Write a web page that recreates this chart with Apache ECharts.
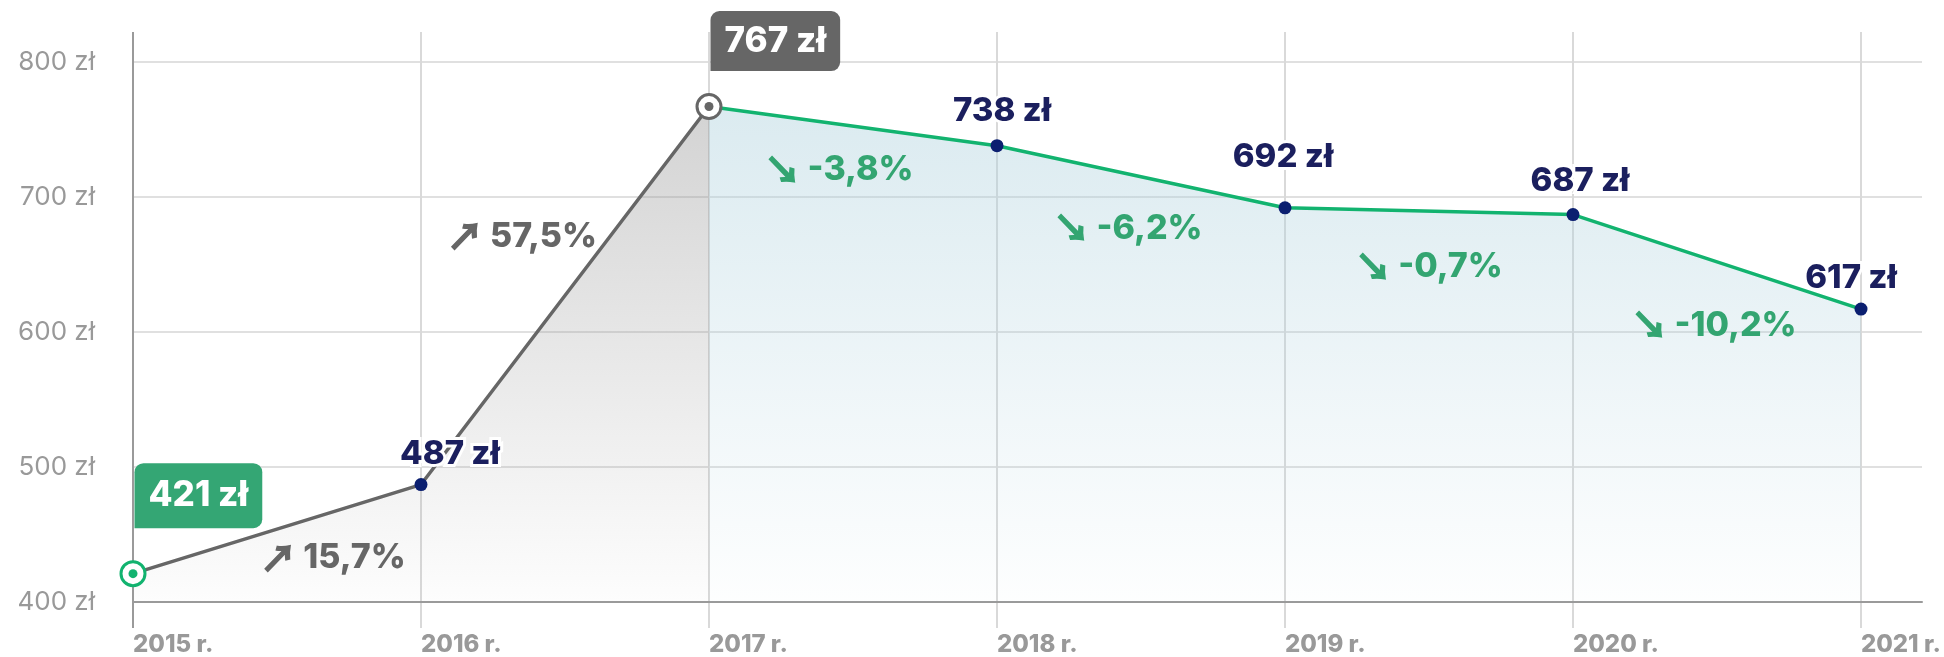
<!DOCTYPE html>
<html><head><meta charset="utf-8">
<script src="https://cdn.jsdelivr.net/npm/echarts@6/dist/echarts.min.js"></script>
<style>html,body{margin:0;padding:0;background:#fff}#c{width:1944px;height:657px}</style>
</head><body><div id="c"></div>
<script>
// ---- data ----
const categories = ['2015 r.', '2016 r.', '2017 r.', '2018 r.', '2019 r.', '2020 r.', '2021 r.'];
const prices = [421, 487, 767, 738, 692, 687, 617];
const changeLabels = ['15,7%', '57,5%', '-3,8%', '-6,2%', '-0,7%', '-10,2%'];
const yTicks = [400, 500, 600, 700, 800];
const unit = ' zł';
const firstIndex = 0;
const peakIndex = 2;

// ---- layout / style (not data) ----
const valueLabelDx = [0, 29, 0, 5, -2, 7, -10];
const valueLabelDist = [0, 7, 0, 12, 28, 10, 8];
const changeLabelOffset = [[56, 29], [-43, -59], [-14, 44], [-13, 52], [0, 56], [-3, 64]];
const FONT = 'Inter';
const GREEN = '#12b36f', GREEN_TXT = '#33a571', GREEN_BOX = '#34a674';
const GRAY = '#666666', NAVY_TXT = '#1b1f5e', NAVY_DOT = '#0b1f70';

const xMax = (1922 - 133) / 288;

const grayLine = prices.slice(0, peakIndex + 1).map((v, i) => [i, v]);
const greenLine = prices.slice(peakIndex).map((v, k) => [k + peakIndex, v]);

const dots = prices.map((v, i) => ({ i, v })).filter(d => d.i !== firstIndex && d.i !== peakIndex)
  .map(d => ({
    value: [d.i, d.v],
    label: { offset: [valueLabelDx[d.i], 0], distance: valueLabelDist[d.i] }
  }));

const rings = [
  { value: [firstIndex, prices[firstIndex]], color: GREEN, box: GREEN_BOX, gap: 44, lh: 47 },
  { value: [peakIndex, prices[peakIndex]], color: GRAY, box: GRAY, gap: 34, lh: 42 }
];

const changes = changeLabels.map((t, i) => {
  const up = prices[i + 1] > prices[i];
  const c = up ? GRAY : GREEN_TXT;
  return {
    value: [i + 0.5, (prices[i] + prices[i + 1]) / 2],
    label: {
      offset: changeLabelOffset[i],
      formatter: (up ? '{a|↗}' : '{a|↘}') + '{t|' + t + '}',
      rich: {
        a: { fontSize: 36, fontWeight: 'bold', color: c, fontFamily: 'Noto Sans CJK SC', padding: [0, 7, 0, 0],
             textBorderColor: c, textBorderWidth: 1.5 },
        t: { fontSize: 34, fontWeight: 800, color: c, fontFamily: FONT }
      }
    }
  };
});

const chart = echarts.init(document.getElementById('c'), null, { renderer: 'canvas' });
chart.setOption({
  animation: false,
  backgroundColor: '#ffffff',
  grid: [
    { left: 133, right: 22, top: 62, bottom: 55 },
    { left: 133, right: 83, top: 32, bottom: 29 }
  ],
  xAxis: [
    {
      gridIndex: 0, type: 'value', min: 0, max: xMax, interval: 1,
      axisLine: { show: true, lineStyle: { color: '#9a9a9a', width: 2 } },
      axisTick: { show: false }, axisLabel: { show: false }, splitLine: { show: false }
    },
    {
      gridIndex: 1, type: 'category', boundaryGap: false, data: categories,
      axisLine: { show: false }, axisTick: { show: false },
      axisLabel: { align: 'left', margin: 5, color: '#999999', fontFamily: FONT, fontWeight: 800, fontSize: 24 },
      splitLine: { show: true, lineStyle: { color: ['#9a9a9a', '#d9d9d9', '#d9d9d9', '#d9d9d9', '#d9d9d9', '#d9d9d9', '#d9d9d9'], width: 2 } }
    }
  ],
  yAxis: [
    {
      gridIndex: 0, type: 'value', min: yTicks[0], max: yTicks[yTicks.length - 1], interval: yTicks[1] - yTicks[0],
      axisLine: { show: false }, axisTick: { show: false },
      axisLabel: { margin: 38, color: '#999999', fontFamily: FONT, fontSize: 26, formatter: v => v + unit },
      splitLine: { show: true, lineStyle: { color: '#d6d6d6', width: 1.5 } }
    },
    { gridIndex: 1, type: 'value', min: 0, max: 1, show: false }
  ],
  series: [
    {
      type: 'line', xAxisIndex: 0, yAxisIndex: 0, data: grayLine, showSymbol: false, z: 3,
      lineStyle: { color: GRAY, width: 3.5 },
      areaStyle: {
        opacity: 1,
        color: new echarts.graphic.LinearGradient(0, 0, 0, 1, [
          { offset: 0, color: 'rgba(150,150,150,0.42)' },
          { offset: 1, color: 'rgba(150,150,150,0.02)' }
        ])
      }
    },
    {
      type: 'line', xAxisIndex: 0, yAxisIndex: 0, data: greenLine, showSymbol: false, z: 3,
      lineStyle: { color: GREEN, width: 3.5 },
      areaStyle: {
        opacity: 1,
        color: new echarts.graphic.LinearGradient(0, 0, 0, 1, [
          { offset: 0, color: 'rgba(175,210,222,0.45)' },
          { offset: 1, color: 'rgba(175,210,222,0.02)' }
        ])
      }
    },
    {
      type: 'scatter', xAxisIndex: 0, yAxisIndex: 0, data: dots, symbolSize: 13, z: 5,
      itemStyle: { color: NAVY_DOT, opacity: 1 },
      label: {
        show: true, position: 'top', formatter: p => p.value[1] + unit,
        color: NAVY_TXT, fontFamily: FONT, fontWeight: 800, fontSize: 33,
        textBorderColor: '#ffffff', textBorderWidth: 6
      }
    },
    {
      type: 'scatter', xAxisIndex: 0, yAxisIndex: 0, symbolSize: 24, z: 6,
      data: rings.map(r => ({
        value: r.value,
        itemStyle: { color: '#ffffff', borderColor: r.color, borderWidth: 3, opacity: 1 },
        label: {
          show: true, position: [15, 12 - r.gap], align: 'left', verticalAlign: 'bottom',
          formatter: r.value[1] + unit,
          color: '#ffffff', fontFamily: FONT, fontWeight: 800, fontSize: 35, lineHeight: r.lh,
          backgroundColor: r.box, borderRadius: [9, 9, 9, 0], padding: [9, 14, 9, 14]
        }
      }))
    },
    {
      type: 'scatter', xAxisIndex: 0, yAxisIndex: 0, symbolSize: 9, z: 7, silent: true,
      data: rings.map(r => ({ value: r.value, itemStyle: { color: r.color, opacity: 1 } }))
    },
    {
      type: 'scatter', xAxisIndex: 0, yAxisIndex: 0, symbolSize: 0, z: 8, data: changes,
      itemStyle: { opacity: 1 },
      label: { show: true, position: 'inside' }
    }
  ]
});
</script>
</body></html>
